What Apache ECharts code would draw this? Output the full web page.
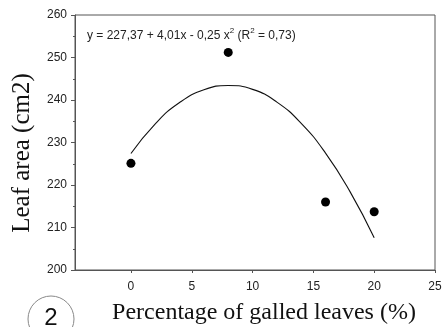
<!DOCTYPE html>
<html>
<head>
<meta charset="utf-8">
<script src="https://cdn.jsdelivr.net/npm/echarts@6/dist/echarts.min.js"></script>
<style>
  html, body { margin: 0; padding: 0; background: #fff; }
  #chart { width: 445px; height: 327px; }
</style>
</head>
<body>
<div id="chart"></div>
<script>
  // observed points
  const galledPct = [0, 8, 16, 20];
  const leafArea = [225.1, 251.2, 216.0, 213.7];

  // fitted curve
  const fitX = [0, 2, 4, 6, 8, 10, 12, 14, 16, 18, 20];
  const fitY = [227.4, 234.4, 239.4, 242.4, 243.4, 242.5, 239.5, 234.5, 227.5, 218.5, 207.6];

  const xTicks = [0, 5, 10, 15, 20, 25];

  const chart = echarts.init(document.getElementById('chart'), null, { renderer: 'canvas' });
  const axisColor = '#555';
  const labelFont = 'Liberation Sans, Arial, sans-serif';
  const serifFont = 'Liberation Serif, Times New Roman, serif';

  chart.setOption({
    animation: false,
    grid: { left: 75, right: 10, top: 15, bottom: 57, show: true, borderColor: axisColor, borderWidth: 1 },
    xAxis: {
      type: 'value',
      min: -4.6,
      max: 25,
      axisLine: { show: true, onZero: false, lineStyle: { color: axisColor } },
      axisTick: { show: true, length: 3, customValues: xTicks, lineStyle: { color: axisColor } },
      axisLabel: { customValues: xTicks, color: '#222', fontSize: 12, fontFamily: labelFont, margin: 11 },
      splitLine: { show: false }
    },
    yAxis: {
      type: 'value',
      min: 200,
      max: 260,
      interval: 10,
      axisLine: { show: true, onZero: false, lineStyle: { color: axisColor } },
      axisTick: { show: true, length: 4, lineStyle: { color: axisColor } },
      minorTick: { show: true, splitNumber: 2, length: 2, lineStyle: { color: axisColor } },
      axisLabel: { color: '#222', fontSize: 12, fontFamily: labelFont, margin: 8 },
      splitLine: { show: false }
    },
    series: [
      {
        type: 'line',
        data: fitX.map((x, i) => [x, fitY[i]]),
        smooth: true,
        showSymbol: false,
        lineStyle: { color: '#111', width: 1.1 },
        z: 2
      },
      {
        type: 'scatter',
        data: galledPct.map((x, i) => [x, leafArea[i]]),
        symbol: 'circle',
        symbolSize: 9,
        itemStyle: { color: '#000', opacity: 1 },
        z: 3
      }
    ],
    graphic: [
      {
        type: 'text',
        left: 87,
        top: 27,
        style: {
          text: '{n|y = 227,37 + 4,01x - 0,25 x}{s|2}{n| (R}{s|2}{n| = 0,73)}',
          rich: {
            n: { fontSize: 12, fontFamily: labelFont, fill: '#222', lineHeight: 16 },
            s: { fontSize: 8, fontFamily: labelFont, fill: '#222', lineHeight: 16, padding: [0, 0, 9, 0] }
          }
        }
      },
      {
        type: 'text',
        x: 264,
        y: 313,
        style: {
          text: 'Percentage of galled leaves (%)',
          font: '24px ' + serifFont,
          fill: '#111',
          textAlign: 'center',
          textVerticalAlign: 'middle'
        }
      },
      {
        type: 'text',
        x: 22,
        y: 153,
        rotation: Math.PI / 2,
        style: {
          text: 'Leaf area (cm2)',
          font: '25px ' + serifFont,
          fill: '#111',
          textAlign: 'center',
          textVerticalAlign: 'middle'
        }
      },
      {
        type: 'circle',
        shape: { cx: 51, cy: 319, r: 23 },
        style: { fill: 'none', stroke: '#888', lineWidth: 1 }
      },
      {
        type: 'text',
        x: 51,
        y: 318,
        style: {
          text: '2',
          font: '24px ' + labelFont,
          fill: '#111',
          textAlign: 'center',
          textVerticalAlign: 'middle'
        }
      }
    ]
  });
</script>
</body>
</html>
